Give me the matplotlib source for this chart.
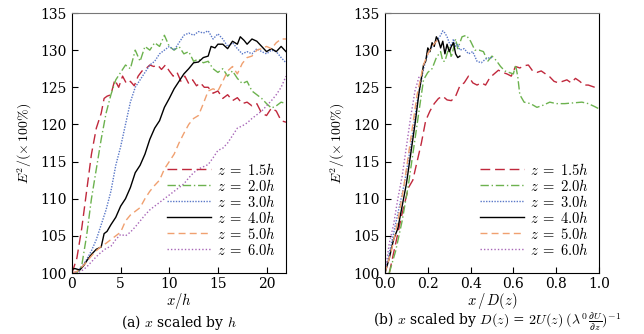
import matplotlib
matplotlib.use("Agg")
import matplotlib.pyplot as plt

plt.rcParams['font.family'] = ['DejaVu Serif']
plt.rcParams['mathtext.fontset'] = 'cm'

labels = [r"$z\;=\;1.5h$", r"$z\;=\;2.0h$", r"$z\;=\;3.0h$", r"$z\;=\;4.0h$", r"$z\;=\;5.0h$", r"$z\;=\;6.0h$"]

# Panel (a): x/h
xa_15 = [0, 0.5, 1.0, 1.5, 2.0, 2.5, 3.0, 3.3, 3.6, 4.0, 4.4, 4.8, 5.2, 5.6, 6.0, 6.4, 6.8, 7.2, 7.6, 8.0, 8.4, 8.8, 9.2, 9.6, 10.0, 10.4, 10.8, 11.2, 11.6, 12.0, 12.4, 12.8, 13.2, 13.6, 14.0, 14.5, 15.0, 15.5, 16.0, 16.5, 17.0, 17.5, 18.0, 18.5, 19.0, 19.5, 20.0, 20.5, 21.0, 21.5, 22.0]
ya_15 = [100, 102, 106, 111, 116, 119.5, 121.5, 123.5, 123.8, 124, 126, 125, 126.5, 125.5, 125.8, 125.2, 126.5, 127.2, 127.5, 128, 127.8, 128, 127.4, 128, 127.2, 126.5, 127, 125.8, 126.5, 125.5, 126, 125.2, 125.6, 125, 125, 124.2, 124.5, 123.5, 124, 123.2, 123.6, 122.8, 123, 122.5, 122.8, 121.5, 121.2, 122.2, 121.8, 120.5, 120.3]

xa_20 = [0, 0.5, 1.0, 1.5, 2.0, 2.5, 3.0, 3.5, 4.0, 4.5, 5.0, 5.5, 6.0, 6.5, 7.0, 7.5, 8.0, 8.5, 9.0, 9.5, 10.0, 10.5, 11.0, 11.5, 12.0, 12.5, 13.0, 13.5, 14.0, 14.5, 15.0, 15.5, 16.0, 16.5, 17.0, 17.5, 18.0, 18.5, 19.0, 19.5, 20.0, 20.5, 21.0, 21.5, 22.0]
ya_20 = [100, 100, 101, 105, 110, 114, 118, 121.5, 124, 126, 127, 128, 127.5, 130, 128.5, 130.5, 130, 131, 130.5, 132, 130.5, 130, 130.5, 129.5, 129.8, 128.5, 128.8, 128.3, 128.5, 127.5, 127, 127.5, 126.5, 127.2, 126.2, 125.5, 125.8, 124.5, 124, 123.5, 122.8, 122.2, 122.5, 123, 122.8]

xa_30 = [0, 0.5, 1, 1.5, 2, 2.5, 3, 3.5, 4, 4.5, 5, 5.5, 6, 6.5, 7, 7.5, 8, 8.5, 9, 9.5, 10, 10.5, 11, 11.5, 12, 12.5, 13, 13.5, 14, 14.5, 15, 15.5, 16, 16.5, 17, 17.5, 18, 18.5, 19, 19.5, 20, 20.5, 21, 21.5, 22]
ya_30 = [100, 100.2, 100.8, 101.8, 103, 104.5, 106.5, 108.5, 111, 114.5, 117, 120, 123, 125, 126, 127, 128, 128.5, 129.5, 130, 130.5, 130, 131, 132, 132.3, 132, 132.5, 132.3, 132.6, 131.5, 132.2, 131.5, 130.5, 131, 130.2, 129.5, 129.8, 129.5, 130.2, 129.8, 129.5, 130, 129.8, 129, 128.3]

xa_40 = [0, 0.3, 0.8, 1.2, 1.6, 2, 2.5, 3, 3.3, 3.6, 4, 4.5, 5, 5.5, 6, 6.5, 7, 7.5, 8, 8.5, 9, 9.5, 10, 10.5, 11, 11.5, 12, 12.5, 13, 13.5, 14, 14.3, 14.7, 15, 15.5, 16, 16.5, 17, 17.3, 17.7, 18, 18.5, 19, 19.5, 20, 20.5, 21, 21.5, 22]
ya_40 = [100.5, 100.6, 100.4, 101, 101.8, 102.5, 103.2, 103.5, 105.3, 105.6, 106.5, 107.5, 109, 110, 111.5, 113.5, 114.5, 116, 118, 119.5, 120.5, 122.3, 123.5, 124.8, 125.8, 126.8, 127.5, 128.3, 128.4, 129, 129.2, 130.5, 130.3, 130.8, 130.8, 130.2, 131.2, 130.8, 131.8, 131.3, 130.8, 131.5, 131.2, 130.5, 129.8, 130.2, 129.8, 130.5, 129.8]

xa_50 = [0, 0.5, 1, 1.5, 2, 2.5, 3, 3.5, 4, 4.5, 5, 5.5, 6, 6.5, 7, 7.5, 8, 8.5, 9, 9.5, 10, 10.5, 11, 11.5, 12, 12.5, 13, 13.5, 14, 14.5, 15, 15.5, 16, 16.5, 17, 17.5, 18, 18.5, 19, 19.5, 20, 20.5, 21, 21.5, 22]
ya_50 = [100, 100.2, 100.8, 101.5, 102.3, 103, 103.6, 104, 104.5, 105, 105.5, 107, 107.8, 108.3, 108.8, 110, 111, 111.8, 112.5, 114, 115, 116, 117.5, 118.8, 120, 120.8, 121.2, 122.8, 124.5, 124.8, 124.5, 125.8, 127.2, 127.8, 126.8, 128.2, 129, 129.2, 130, 130.2, 130.5, 130.2, 131, 131.5, 131.5]

xa_60 = [0, 0.5, 1, 1.5, 2, 2.5, 3, 3.5, 4, 4.5, 5, 5.5, 6, 6.5, 7, 7.5, 8, 8.5, 9, 9.5, 10, 10.5, 11, 11.5, 12, 12.5, 13, 13.5, 14, 14.5, 15, 15.5, 16, 16.5, 17, 17.5, 18, 18.5, 19, 19.5, 20, 20.5, 21, 21.5, 22]
ya_60 = [100, 100, 100.3, 100.8, 101.5, 102.2, 102.8, 103.3, 103.6, 104.5, 105.2, 105, 105.5, 106.2, 107, 107.8, 108.5, 109, 109.5, 110, 110.5, 111, 111.5, 112, 112.8, 113.5, 114, 114.3, 114.6, 115.5, 116.5, 116.8, 117.5, 118.5, 119.5, 119.8, 120.2, 120.8, 121.3, 121.8, 122.5, 123.2, 124, 125, 126.5]

# Panel (b): x/D(z)
xb_15 = [0.02, 0.05, 0.08, 0.11, 0.13, 0.15, 0.17, 0.19, 0.21, 0.23, 0.25, 0.27, 0.29, 0.31, 0.33, 0.35, 0.37, 0.39, 0.41, 0.43, 0.45, 0.47, 0.49, 0.51, 0.53, 0.55, 0.57, 0.59, 0.61, 0.63, 0.65, 0.67, 0.69, 0.71, 0.73, 0.75, 0.77, 0.79, 0.81, 0.83, 0.85, 0.87, 0.89, 0.91, 0.93, 0.95, 0.97, 1.0]
yb_15 = [100, 104, 108, 111.5, 112.5, 115, 117.5, 120.5, 121.8, 122.8, 123.5, 123.8, 123.3, 123.2, 123.8, 125.2, 125.6, 126.5, 125.6, 125.3, 125.6, 125.3, 126.3, 126.8, 127.3, 127, 126.8, 126.5, 127.8, 127.6, 127.9, 128, 127.2, 127, 127.2, 126.8, 126.4, 125.8, 125.6, 125.8, 126, 125.6, 126.2, 125.8, 125.3, 125.3, 125.1, 124.8]

xb_20 = [0.02, 0.05, 0.08, 0.11, 0.14, 0.16, 0.18, 0.2, 0.22, 0.24, 0.26, 0.27, 0.28, 0.3, 0.31, 0.33, 0.34, 0.36, 0.38, 0.4, 0.42, 0.44, 0.46, 0.48, 0.5, 0.52, 0.54, 0.56, 0.58, 0.6, 0.61, 0.62, 0.63, 0.65, 0.68, 0.71, 0.74, 0.77, 0.8, 0.84, 0.88, 0.92, 0.95, 0.98, 1.0]
yb_20 = [100, 103, 107, 112, 118, 122, 126, 127, 127.5, 129, 129.8, 128.5, 128.5, 130.5, 129, 131.5, 130.2, 131.8, 132, 131.2, 130, 130, 129.8, 128.5, 129.2, 128.6, 127.8, 127.2, 127, 126.8, 128, 126.5, 124, 123, 122.8, 122.3, 122.6, 123, 122.8, 122.8, 122.9, 123, 122.8, 122.4, 122.1]

xb_30 = [0.0, 0.03, 0.06, 0.09, 0.12, 0.15, 0.18, 0.2, 0.22, 0.24, 0.26, 0.27, 0.28, 0.29, 0.3, 0.31, 0.32, 0.33, 0.34, 0.35, 0.37, 0.39, 0.41, 0.43, 0.45, 0.47, 0.49, 0.5]
yb_30 = [100, 104, 108, 112, 117, 123, 127.5, 129.5, 130.5, 131.2, 132, 132.6, 132.3, 131.8, 131, 130.5, 131.5, 130.5, 130.8, 130.0, 130.2, 129.5, 129.8, 128.5, 128.3, 128.8, 129, 129]

xb_40 = [0, 0.02, 0.04, 0.06, 0.08, 0.1, 0.12, 0.14, 0.16, 0.18, 0.19, 0.2, 0.21, 0.22, 0.23, 0.24, 0.25, 0.26, 0.27, 0.28, 0.29, 0.3, 0.31, 0.32, 0.33, 0.34, 0.35]
yb_40 = [100, 102, 104.5, 106, 109, 112, 116, 120, 124.5, 128, 128.5, 130.3, 129.8, 131, 130.5, 131.8, 131.3, 130.3, 131.2, 129.5, 130.8, 129.8, 130.5, 131, 129.5, 129, 129.2]

xb_50 = [0, 0.03, 0.06, 0.09, 0.12, 0.15, 0.18, 0.2, 0.22, 0.24, 0.26]
yb_50 = [100, 103, 107, 112, 118, 124, 128, 129.5, 130.5, 131.2, 131.5]

xb_60 = [0, 0.02, 0.04, 0.06, 0.08, 0.1, 0.12, 0.14, 0.16]
yb_60 = [100, 104, 106.5, 110, 113, 117, 121, 124.5, 126.5]

colors = ['#c0283c', '#6cb24e', '#5a78c8', '#000000', '#f0a070', '#a866b8']
styles = [(0, (7, 3.5)), (0, (6, 2, 1, 2)), (0, (1, 1)), '-', (0, (5, 3)), (0, (1, 1.5))]

fig = plt.figure(figsize=(6.44, 3.34), dpi=100)
axA = fig.add_axes([72/644, 61/334, 214/644, 260/334])
axB = fig.add_axes([385/644, 61/334, 214/644, 260/334])

dataA = [(xa_15, ya_15), (xa_20, ya_20), (xa_30, ya_30), (xa_40, ya_40), (xa_50, ya_50), (xa_60, ya_60)]
dataB = [(xb_15, yb_15), (xb_20, yb_20), (xb_30, yb_30), (xb_40, yb_40), (xb_50, yb_50), (xb_60, yb_60)]

for ax, data in [(axA, dataA), (axB, dataB)]:
    for (x, y), c, ls, lab in zip(data, colors, styles, labels):
        ax.plot(x, y, color=c, linestyle=ls, linewidth=1.0, label=lab)
    ax.set_ylim(100, 135)
    ax.set_yticks([100, 105, 110, 115, 120, 125, 130, 135])
    ax.tick_params(direction='in', length=4, labelsize=10, top=False, right=False)
    ax.tick_params(axis='x', pad=3)
    ax.tick_params(axis='y', pad=4)
    ax.set_ylabel(r"$E^2/(\times\,100\%)$", fontsize=10, labelpad=4)
    for sp in ax.spines.values():
        sp.set_linewidth(0.8)
    ax.spines['top'].set_color('#777777')
    leg = ax.legend(loc='lower right', frameon=False, fontsize=10.5, handlelength=3.0,
                    labelspacing=0.0, handletextpad=0.4, borderaxespad=0.3,
                    bbox_to_anchor=(1.0, 0.02))

axA.set_xlim(0, 22)
axA.set_xticks([0, 5, 10, 15, 20])
axA.set_xlabel(r"$x/h$", fontsize=10.5, labelpad=0)
axB.set_xlim(0, 1.0)
axB.set_xticks([0.0, 0.2, 0.4, 0.6, 0.8, 1.0])
axB.set_xticklabels(['0.0', '0.2', '0.4', '0.6', '0.8', '1.0'])
axB.set_xlabel(r"$x\,/\,D(z)$", fontsize=10.5, labelpad=0)

fig.text(179/644, 1 - 322/334, r"(a) $x$ scaled by $h$", ha='center', va='center', fontsize=10)
fig.text(497/644, 1 - 322/334, r"(b) $x$ scaled by $D(z)$ = $2U(z)\;(\lambda^0\,\frac{\partial U}{\partial z})^{-1}$",
         ha='center', va='center', fontsize=10)

fig.savefig('out.png', dpi=100)
